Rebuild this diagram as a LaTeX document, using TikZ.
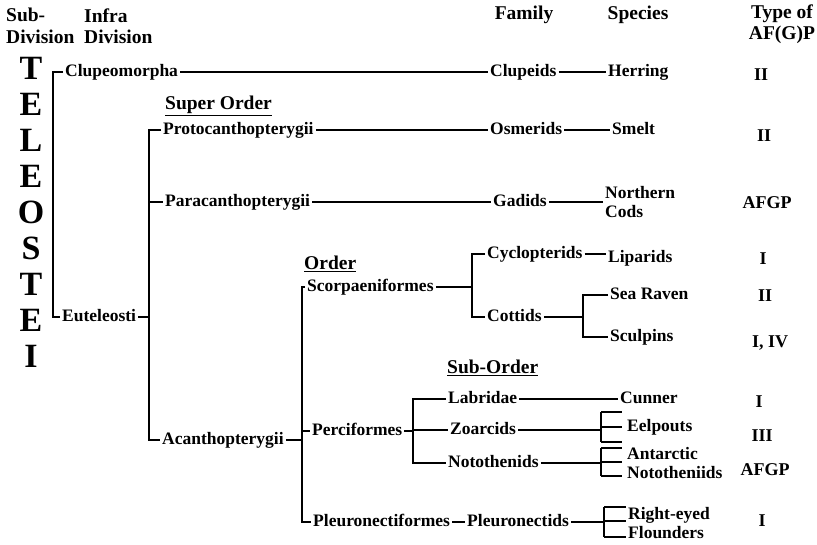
\documentclass[tikz,border=0pt]{standalone}
\usepackage{fontspec}
\setmainfont{Liberation Serif}
\usepackage{tikz}
\usetikzlibrary{calc}
\tikzset{
    % names in the tree, one line
    taxon/.style={anchor=west, inner sep=2pt, text height=11.5pt, text depth=3.5pt,
        font=\fontsize{17.5}{19}\selectfont\bfseries},
    % names in the tree, two lines
    taxontwo/.style={anchor=west, inner sep=2pt, align=left,
        font=\fontsize{17.5}{19}\selectfont\bfseries},
    % column and rank headings
    heading/.style={inner sep=1pt, align=left, font=\fontsize{19.5}{21.5}\selectfont\bfseries},
    % type of antifreeze protein
    aftype/.style={inner sep=1pt, font=\fontsize{18}{18}\selectfont\bfseries},
    % the big letters down the left side
    bigletter/.style={inner sep=0pt, font=\fontsize{34}{34}\selectfont\bfseries},
    % three-pronged end of a branch
    comb/.style={line width=1.8pt}
}

\begin{document}
\begin{tikzpicture}[x=1pt, y=-1pt]
    \useasboundingbox (0,0) rectangle (817,544);

    % headings
    \node (hsub) at (5,26)[heading, anchor=west]{Sub-\\Division};
    \node (hinfra) at (83,26)[heading, anchor=west]{Infra\\Division};
    \node (hfam) at (524,15)[heading]{Family};
    \node (hspec) at (638,15)[heading]{Species};
    \node (htype) at (782,24)[heading, align=center]{Type of\\AF(G)P};
    \node (hsuper) at (164,106)[heading, anchor=west]{\underline{Super Order}};
    \node (horder) at (303,264)[heading, anchor=west]{\underline{Order}};
    \node (hsubord) at (446,368)[heading, anchor=west]{\underline{Sub-Order}};

    % sub-division
    \foreach \l [count=\i] in {T,E,L,E,O,S,T,E,I} {
        \node (t\i) at (31,32+36*\i)[bigletter]{\l};
    }

    % infra-division
    \node (clupeo) at (63,72)[taxon]{Clupeomorpha};
    \node (eutel) at (60,317)[taxon]{Euteleosti};

    % super orders
    \node (proto) at (161,130)[taxon]{Protocanthopterygii};
    \node (para) at (163,202)[taxon]{Paracanthopterygii};
    \node (acantho) at (160,440)[taxon]{Acanthopterygii};

    % orders and sub-orders
    \node (scorp) at (305,287)[taxon]{Scorpaeniformes};
    \node (perci) at (310,431)[taxon]{Perciformes};
    \node (pleuroform) at (311,522)[taxon]{Pleuronectiformes};

    % families
    \node (clupeids) at (488,72)[taxon]{Clupeids};
    \node (osmerids) at (488,130)[taxon]{Osmerids};
    \node (gadids) at (491,202)[taxon]{Gadids};
    \node (cyclo) at (485,254)[taxon]{Cyclopterids};
    \node (cottids) at (485,317)[taxon]{Cottids};
    \node (labridae) at (446,399)[taxon]{Labridae};
    \node (zoarcids) at (448,430)[taxon]{Zoarcids};
    \node (notoths) at (446,463)[taxon]{Notothenids};
    \node (pleuronectids) at (465,522)[taxon]{Pleuronectids};

    % species
    \node (herring) at (606,72)[taxon]{Herring};
    \node (smelt) at (610,130)[taxon]{Smelt};
    \node (ncods) at (603,202)[taxontwo]{Northern\\Cods};
    \node (liparids) at (606,258)[taxon]{Liparids};
    \node (searaven) at (608,295)[taxon]{Sea Raven};
    \node (sculpins) at (608,337)[taxon]{Sculpins};
    \node (cunner) at (618,399)[taxon]{Cunner};
    \node (eelpouts) at (625,427)[taxon]{Eelpouts};
    \node (antarctic) at (625,463)[taxontwo]{Antarctic\\Nototheniids};
    \node (flounders) at (626,523)[taxontwo]{Right-eyed\\Flounders};

    % types
    \node (ty1) at (761,75)[aftype]{II};
    \node (ty2) at (764,136)[aftype]{II};
    \node (ty3) at (767,203)[aftype]{AFGP};
    \node (ty4) at (763,259)[aftype]{I};
    \node (ty5) at (765,296)[aftype]{II};
    \node (ty6) at (770,343)[aftype]{I, IV};
    \node (ty7) at (759,402)[aftype]{I};
    \node (ty8) at (762,436)[aftype]{III};
    \node (ty9) at (765,470)[aftype]{AFGP};
    \node (ty10) at (762,521)[aftype]{I};

    % spines of the brackets
    \coordinate (s1) at (53,0);
    \coordinate (s2) at (149,0);
    \coordinate (s3) at (302,0);
    \coordinate (s4) at (472,0);
    \coordinate (s5) at (583,0);
    \coordinate (s6) at (413,0);

    % ends of the combs
    \coordinate (ca1) at (601,412);
    \coordinate (ca2) at (601,427);
    \coordinate (ca3) at (601,442);
    \coordinate (cb1) at (601,448);
    \coordinate (cb2) at (601,462);
    \coordinate (cb3) at (601,476);
    \coordinate (cc1) at (604,507);
    \coordinate (cc2) at (604,521);
    \coordinate (cc3) at (604,537);

    \begin{scope}[line width=1.8pt]
        \draw (clupeo.west) -- (s1 |- clupeo.west) -- (s1 |- eutel.west) -- (eutel.west);
        \draw (clupeo.east) -- (clupeids.west);
        \draw (clupeids.east) -- (herring.west);

        \draw (eutel.east) -- (s2 |- eutel.east);
        \draw (proto.west) -- (s2 |- proto.west) -- (s2 |- acantho.west) -- (acantho.west);
        \draw (s2 |- para.west) -- (para.west);
        \draw (proto.east) -- (osmerids.west);
        \draw (osmerids.east) -- (smelt.west);
        \draw (para.east) -- (gadids.west);
        \draw (gadids.east) -- (ncods.west);

        \draw (acantho.east) -- (s3 |- acantho.east);
        \draw (scorp.west) -- (s3 |- scorp.west) -- (s3 |- pleuroform.west) -- (pleuroform.west);
        \draw (s3 |- perci.west) -- (perci.west);

        \draw (scorp.east) -- (s4 |- scorp.east);
        \draw (cyclo.west) -- (s4 |- cyclo.west) -- (s4 |- cottids.west) -- (cottids.west);
        \draw (cyclo.east) -- (cyclo.east -| liparids.west);
        \draw (cottids.east) -- (s5 |- cottids.east);
        \draw (searaven.west) -- (s5 |- searaven.west) -- (s5 |- sculpins.west) -- (sculpins.west);

        \draw (perci.east) -- (s6 |- perci.east);
        \draw (labridae.west) -- (s6 |- labridae.west) -- (s6 |- notoths.west) -- (notoths.west);
        \draw (s6 |- zoarcids.west) -- (zoarcids.west);
        \draw (labridae.east) -- (cunner.west);

        \draw (zoarcids.east) -- (ca1 |- zoarcids.east);
        \draw (notoths.east) -- (cb1 |- notoths.east);
        \draw (pleuroform.east) -- (pleuronectids.west);
        \draw (pleuronectids.east) -- (cc1 |- pleuronectids.east);
    \end{scope}

    % combs
    \draw[comb] (ca1) -- (ca3);
    \draw[comb] (cb1) -- (cb3);
    \draw[comb] (cc1) -- (cc3);
    \foreach \c in {ca1,ca2,ca3,cb1,cb2,cb3} {
        \draw[comb] (\c) -- ++(21,0);
    }
    \foreach \c in {cc1,cc2,cc3} {
        \draw[comb] (\c) -- ++(22,0);
    }
\end{tikzpicture}
\end{document}
